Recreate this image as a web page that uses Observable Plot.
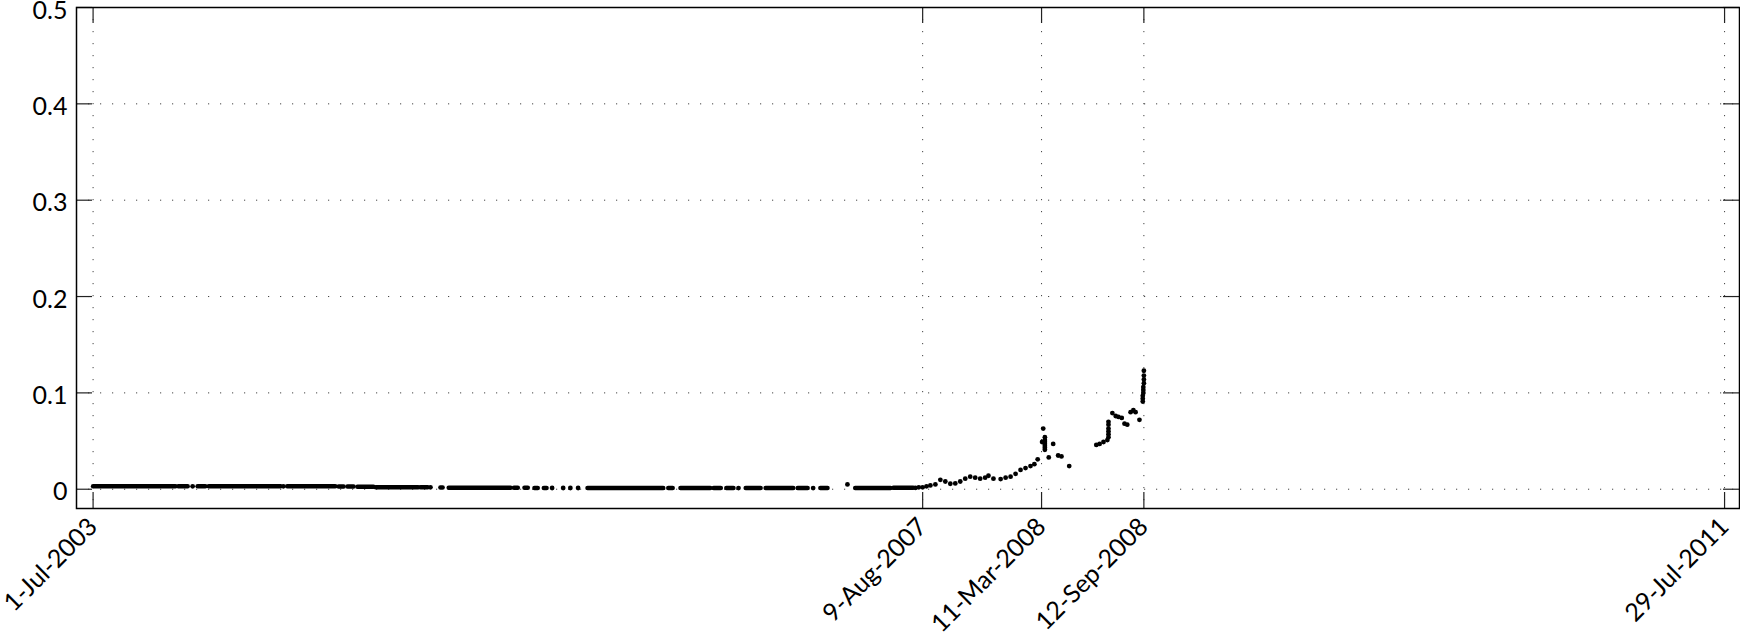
<!DOCTYPE html>
<html>
<head>
<meta charset="utf-8">
<script src="https://cdn.jsdelivr.net/npm/d3@7"></script>
<script src="https://cdn.jsdelivr.net/npm/@observablehq/plot@0.6"></script>
<style>
  html, body { margin: 0; padding: 0; background: #fff; }
  #chart { width: 1740px; height: 632px; }
</style>
</head>
<body>
<div id="chart"></div>
<script>
// ---- Data ----
// x axis tick dates and their labels
const xTickDates = ["2003-07-01", "2007-08-09", "2008-03-11", "2008-09-12", "2011-07-29"];
const xTickLabels = ["1-Jul-2003", "9-Aug-2007", "11-Mar-2008", "12-Sep-2008", "29-Jul-2011"];
const yTicks = [0, 0.1, 0.2, 0.3, 0.4, 0.5];
const xDomain = ["2003-06-01", "2011-08-25"];
const yDomain = [-0.02, 0.5];

// Dense runs of near-zero observations: start date, end date, level
const runStart = ["2003-07-01","2003-12-02","2004-01-06","2004-01-26","2004-06-16","2004-09-17","2004-10-03","2004-10-21","2004-11-23","2005-02-12","2005-03-20","2005-04-04","2005-07-31","2005-08-19","2005-09-06","2005-09-23","2005-12-11","2006-05-06","2006-05-28","2006-07-27","2006-08-19","2006-09-23","2006-10-29","2006-12-26","2007-02-05","2007-04-09","2007-06-17"];
const runEnd   = ["2003-11-27","2003-12-19","2004-01-20","2004-06-04","2004-09-11","2004-09-26","2004-10-14","2004-11-19","2005-02-08","2005-02-25","2005-03-24","2005-07-25","2005-08-07","2005-08-25","2005-09-12","2005-09-28","2006-04-27","2006-05-14","2006-07-21","2006-08-09","2006-09-01","2006-10-20","2006-12-18","2007-01-13","2007-02-18","2007-06-12","2007-07-23"];
const runValue = [0.003,0.003,0.003,0.0032,0.003,0.0028,0.0028,0.0025,0.002,0.002,0.0018,0.0015,0.0015,0.0015,0.0014,0.0014,0.0012,0.0012,0.0012,0.0012,0.0012,0.0012,0.0012,0.0012,0.0012,0.0012,0.0015];

// Individual observations
const pointDates = [
  "2003-12-28","2004-06-09","2005-03-02","2005-10-08","2005-10-28","2005-11-10","2005-11-24",
  "2006-09-10","2007-01-23","2007-03-26","2007-07-27","2007-08-02",
  "2007-08-09","2007-08-16","2007-08-23","2007-09-01","2007-09-10","2007-09-19","2007-09-28",
  "2007-10-07","2007-10-16","2007-10-25","2007-11-03","2007-11-12","2007-11-21","2007-11-30",
  "2007-12-06","2007-12-15","2007-12-28","2008-01-06","2008-01-15","2008-01-24","2008-02-02",
  "2008-02-11","2008-02-20","2008-02-27","2008-03-04","2008-03-12","2008-03-14",
  "2008-03-17","2008-03-17","2008-03-17","2008-03-17","2008-03-17","2008-03-17","2008-03-17",
  "2008-03-24","2008-04-01","2008-04-10","2008-04-16","2008-04-30",
  "2008-06-18","2008-06-24","2008-07-01","2008-07-08",
  "2008-07-10","2008-07-10","2008-07-10","2008-07-10","2008-07-10","2008-07-10",
  "2008-07-17","2008-07-23","2008-07-28","2008-08-03","2008-08-08","2008-08-13",
  "2008-08-19","2008-08-24","2008-08-28","2008-09-04",
  "2008-09-10","2008-09-10","2008-09-10","2008-09-11","2008-09-11","2008-09-11",
  "2008-09-12","2008-09-12","2008-09-12","2008-09-12"
];
const pointValues = [
  0.003,0.003,0.002,0.0013,0.0013,0.0013,0.0013,
  0.0012,0.0012,0.005,0.0015,0.002,
  0.002,0.003,0.004,0.005,0.0098,0.008,0.0057,
  0.006,0.008,0.011,0.013,0.012,0.011,0.012,
  0.014,0.011,0.0105,0.012,0.013,0.016,0.02,
  0.022,0.024,0.026,0.031,0.049,0.063,
  0.041,0.043,0.045,0.047,0.049,0.051,0.054,
  0.033,0.047,0.035,0.034,0.024,
  0.046,0.047,0.049,0.051,
  0.054,0.057,0.06,0.063,0.067,0.07,
  0.079,0.076,0.075,0.074,0.068,0.067,
  0.08,0.082,0.08,0.072,
  0.091,0.094,0.097,0.1,0.103,0.106,
  0.11,0.114,0.118,0.123
];

// ---- Build tables ----
const parse = d3.utcParse("%Y-%m-%d");
const runs = runStart.map((s, i) => ({start: parse(s), end: parse(runEnd[i]), v: runValue[i]}));
const points = pointDates.map((d, i) => ({date: parse(d), v: pointValues[i]}));
const xTicks = xTickDates.map(parse);
const xLabelData = xTicks.map((d, i) => ({date: d, label: xTickLabels[i]}));

const W = 1740, H = 632;
const mL = 76, mR = 1, mT = 7, mB = 124;
const plotW = W - mL - mR, plotH = H - mT - mB;
const FONT = "Lato, 'Open Sans', sans-serif";

const chart = Plot.plot({
  width: W,
  height: H,
  marginLeft: mL,
  marginRight: mR,
  marginTop: mT,
  marginBottom: mB,
  style: {fontFamily: FONT, fontSize: "25px", color: "#000", background: "#fff", overflow: "visible"},
  x: {type: "utc", domain: xDomain.map(parse), axis: null},
  y: {domain: yDomain, axis: null},
  marks: [
    // dotted grid
    Plot.ruleX(xTicks, {stroke: "#444", strokeWidth: 1, strokeDasharray: "1.2,10.8"}),
    Plot.ruleY(yTicks, {stroke: "#444", strokeWidth: 1, strokeDasharray: "1.2,10.8"}),
    // data
    Plot.link(runs, {x1: "start", x2: "end", y1: "v", y2: "v", stroke: "#000", strokeWidth: 4.5, strokeLinecap: "round"}),
    Plot.dot(points, {x: "date", y: "v", r: 2.4, fill: "#000", stroke: "none"}),
    // inward ticks
    Plot.tickY(yTicks, {y: d => d, stroke: "#222", strokeWidth: 1.2, insetRight: plotW - 16}),
    Plot.tickY(yTicks, {y: d => d, stroke: "#222", strokeWidth: 1.2, insetLeft: plotW - 16}),
    Plot.tickX(xTicks, {x: d => d, stroke: "#222", strokeWidth: 1.2, insetBottom: plotH - 16}),
    Plot.tickX(xTicks, {x: d => d, stroke: "#222", strokeWidth: 1.2, insetTop: plotH - 16}),
    // y labels
    Plot.axisY(yTicks, {anchor: "left", label: null, tickSize: 0, tickPadding: 9, dy: 3, tickFormat: d => String(d), fontSize: 25, fill: "#000"}),
    // x labels (rotated)
    Plot.text(xLabelData, {x: "date", frameAnchor: "bottom", text: "label", rotate: -45, textAnchor: "end", lineAnchor: "middle", dy: 14, dx: 0, fontSize: 25, fill: "#000"}),
    // box
    Plot.frame({stroke: "#000", strokeWidth: 1.5})
  ]
});

document.getElementById("chart").appendChild(chart);
</script>
</body>
</html>
